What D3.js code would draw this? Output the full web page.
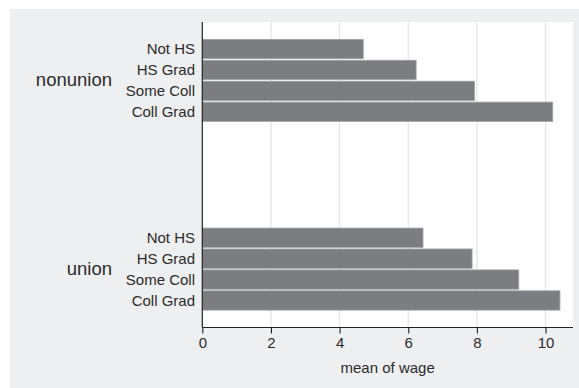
<!DOCTYPE html>
<html>
<head>
<meta charset="utf-8">
<script src="https://cdn.jsdelivr.net/npm/d3@7"></script>
<style>
  html, body { margin: 0; padding: 0; background: #ffffff; }
  svg { display: block; font-family: "Liberation Sans", Arial, Helvetica, sans-serif; }
</style>
</head>
<body>
<svg id="chart" width="579" height="388"></svg>
<script>
// ---- data ----
const groups = ["nonunion", "union"];
const categories = ["Not HS", "HS Grad", "Some Coll", "Coll Grad"];
const nonunionWage = [4.69, 6.23, 7.93, 10.21];
const unionWage = [6.43, 7.86, 9.22, 10.42];
const xTicks = [0, 2, 4, 6, 8, 10];
const xTitle = "mean of wage";

const seriesByGroup = { nonunion: nonunionWage, union: unionWage };
const rows = [];
groups.forEach(g => categories.forEach((c, i) => rows.push({ group: g, cat: c, value: seriesByGroup[g][i] })));

// ---- layout ----
const svg = d3.select("#chart");
const W = 579, H = 388;
const plot = { left: 202.3, right: 573, top: 22, bottom: 327.5 };

// outer gray region
svg.append("rect").attr("x", 10).attr("y", 9).attr("width", W - 10).attr("height", H - 9).attr("fill", "#eeeff1");
// plot region
svg.append("rect").attr("x", plot.left).attr("y", plot.top)
  .attr("width", plot.right - plot.left).attr("height", plot.bottom - plot.top).attr("fill", "#ffffff");

const x = d3.scaleLinear().domain([0, 10.8]).range([plot.left, plot.right]);

const yGroup = d3.scaleBand().domain(groups).range([plot.top, plot.bottom])
  .paddingInner(0.565).paddingOuter(0.092);
const yCat = d3.scaleBand().domain(categories).range([0, yGroup.bandwidth()]).paddingInner(0.075).paddingOuter(0.0);

// gridlines
svg.append("g").selectAll("line").data(xTicks.filter(t => t > 0)).join("line")
  .attr("x1", d => x(d)).attr("x2", d => x(d))
  .attr("y1", plot.top).attr("y2", plot.bottom)
  .attr("stroke", "#e6e7e9").attr("stroke-width", 1.4);

// bars
svg.append("g").selectAll("rect").data(rows).join("rect")
  .attr("x", x(0))
  .attr("y", d => yGroup(d.group) + yCat(d.cat))
  .attr("width", d => x(d.value) - x(0))
  .attr("height", yCat.bandwidth())
  .attr("fill", "#7c7d81")
  .attr("stroke", "#a3a4a7").attr("stroke-width", 0.8);

// x axis
const xAxis = d3.axisBottom(x).tickValues(xTicks).tickSize(6).tickPadding(4).tickFormat(d3.format("d"));
const gx = svg.append("g").attr("transform", `translate(0,${plot.bottom})`).call(xAxis);
gx.select(".domain").attr("stroke", "#222").attr("stroke-width", 1.2)
  .attr("d", `M${plot.left},0H${plot.right}`);
gx.selectAll(".tick line").attr("stroke", "#222").attr("stroke-width", 1.1);
gx.selectAll(".tick text").attr("fill", "#2b2b2b").attr("font-size", 15)
  .attr("font-family", "'Liberation Sans', Arial, sans-serif");

// y axis line
svg.append("line").attr("x1", plot.left).attr("x2", plot.left)
  .attr("y1", plot.top).attr("y2", plot.bottom).attr("stroke", "#222").attr("stroke-width", 1.2);

// category labels
svg.append("g").selectAll("text").data(rows).join("text")
  .attr("x", 195)
  .attr("y", d => yGroup(d.group) + yCat(d.cat) + yCat.bandwidth() / 2)
  .attr("dy", "0.36em")
  .attr("text-anchor", "end")
  .attr("font-size", 15)
  .attr("fill", "#2b2b2b")
  .text(d => d.cat);

// group labels
svg.append("g").selectAll("text").data(groups).join("text")
  .attr("x", 112)
  .attr("y", d => yGroup(d) + yGroup.bandwidth() / 2)
  .attr("dy", "0.3em")
  .attr("text-anchor", "end")
  .attr("font-size", 18.5)
  .attr("fill", "#2b2b2b")
  .text(d => d);

// x title
svg.append("text")
  .attr("x", (plot.left + plot.right) / 2)
  .attr("y", 373)
  .attr("text-anchor", "middle")
  .attr("font-size", 15)
  .attr("fill", "#2b2b2b")
  .text(xTitle);
</script>
</body>
</html>
